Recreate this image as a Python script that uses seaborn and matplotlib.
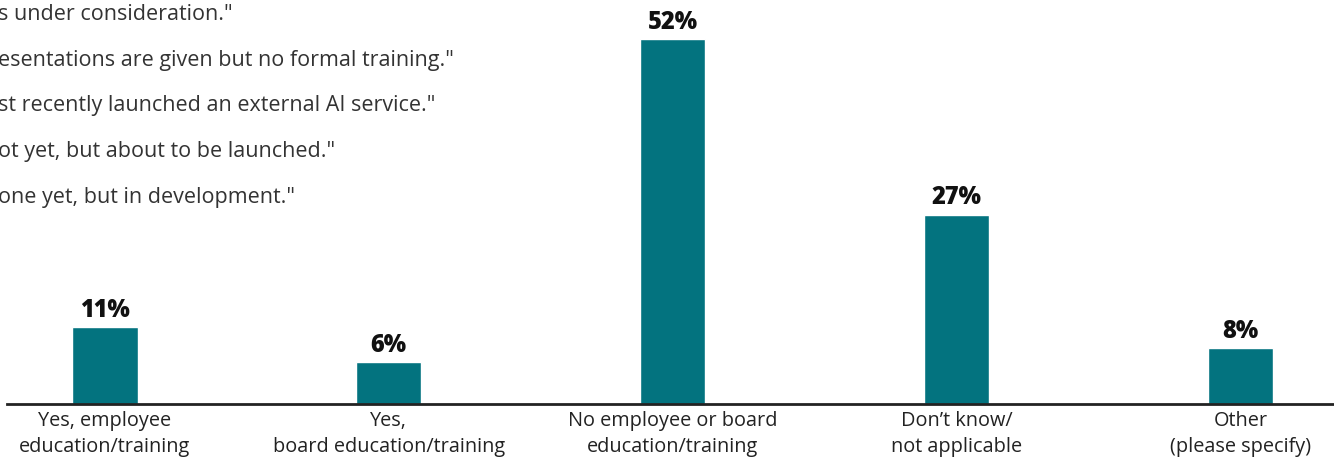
import matplotlib
matplotlib.use("Agg")
import matplotlib.pyplot as plt
import seaborn as sns
import pandas as pd

# Survey answers and shares (percent)
categories = ["Yes, employee\neducation/training",
              "Yes,\nboard education/training",
              "No employee or board\neducation/training",
              "Don\u2019t know/\nnot applicable",
              "Other\n(please specify)"]
values = [11, 6, 52, 27, 8]
value_labels = ["11%", "6%", "52%", "27%", "8%"]

# cropped quote lines at the top left of the original graphic
quotes = ["s under consideration.\"",
          "esentations are given but no formal training.\"",
          "st recently launched an external AI service.\"",
          "ot yet, but about to be launched.\"",
          "one yet, but in development.\""]

sns.set_style("white")
plt.rcParams["font.family"] = ["Open Sans", "DejaVu Sans"]

bar_color = "#03737f"
text_color = "#222222"

df = pd.DataFrame({"category": categories, "value": values})

fig = plt.figure(figsize=(13.34, 4.61), dpi=100)
ax = fig.add_axes([7 / 1334, 57 / 461, 1 - 7 / 1334, 404 / 461])

sns.barplot(data=df, x="category", y="value", color=bar_color,
            width=0.23, saturation=1, ax=ax)

ax.set_xlim(-0.345, 4.33)
ax.set_ylim(0, 57.6)
ax.set_xlabel("")
ax.set_ylabel("")
ax.set_yticks([])
ax.tick_params(axis="x", length=0, pad=5, labelsize=14.3, labelcolor=text_color)
for lab in ax.get_xticklabels():
    lab.set_linespacing(1.4)

sns.despine(ax=ax, left=True)
ax.spines["bottom"].set_color(text_color)
ax.spines["bottom"].set_linewidth(2)

for i, (v, s) in enumerate(zip(values, value_labels)):
    ax.annotate(s, (i, v), xytext=(0, 3), textcoords="offset points",
                ha="center", va="bottom", fontsize=17, fontweight=800,
                color="#111111")

for k, q in enumerate(quotes):
    fig.text(-2 / 1334, 1 - (15 + 45.5 * k) / 461, q, ha="left", va="center",
             fontsize=15.5, color="#333333")

fig.savefig("out.png", dpi=100)
